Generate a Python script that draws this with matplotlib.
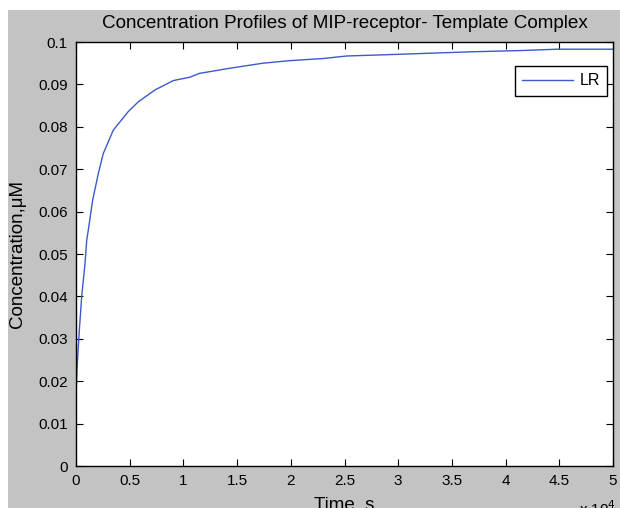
import numpy as np
import matplotlib.pyplot as plt
from matplotlib.patches import Rectangle

# values (time in s, concentration in uM)
time_s = [0, 20, 125, 310, 530, 840, 1000, 1150, 1550, 2080, 2540, 3470, 4870,
          5800, 7360, 9060, 10600, 11500, 14300, 17400, 19900, 23000, 25200,
          28900, 32300, 37000, 41600, 44800, 50000]
conc_LR = [0, 0.018, 0.0243, 0.032, 0.040, 0.0478, 0.0533, 0.0557, 0.0627,
           0.069, 0.0737, 0.0792, 0.0836, 0.0859, 0.0887, 0.0909, 0.0917,
           0.0926, 0.0938, 0.095, 0.0956, 0.0961, 0.0967, 0.097, 0.0973,
           0.0977, 0.098, 0.0983, 0.0983]

xticks = np.arange(0, 50001, 5000)
xticklabels = ['0', '0.5', '1', '1.5', '2', '2.5', '3', '3.5', '4', '4.5', '5']
yticks = np.arange(0, 0.1001, 0.01)
yticklabels = ['0', '0.01', '0.02', '0.03', '0.04', '0.05', '0.06', '0.07',
               '0.08', '0.09', '0.1']

plt.rcParams['font.family'] = ['Liberation Sans', 'DejaVu Sans']

gray = '#c3c3c3'
fig = plt.figure(figsize=(6.2, 5.08), dpi=100, facecolor='white')
# grey window area (white strip on top and left like the screenshot)
fig.patches.append(Rectangle((8 / 620, 0), 1, 1 - 10 / 508, transform=fig.transFigure,
                             facecolor=gray, edgecolor='none', zorder=-10))

ax = fig.add_axes([76 / 620, 42 / 508, 537 / 620, 424 / 508])
ax.plot(time_s, conc_LR, color='#3a5bc8', linewidth=1.0, label='LR')

ax.set_xlim(0, 50000)
ax.set_ylim(0, 0.1)
ax.set_xticks(xticks)
ax.set_xticklabels(xticklabels)
ax.set_yticks(yticks)
ax.set_yticklabels(yticklabels)
ax.tick_params(direction='in', length=5, width=0.8, top=True, right=True,
               labelsize=11, pad=6, colors='black')
for s in ax.spines.values():
    s.set_linewidth(1.0)

ax.set_title('Concentration Profiles of MIP-receptor- Template Complex',
             fontsize=13.6, pad=10)
ax.set_ylabel('Concentration,\u03bcM', fontsize=13.5)
ax.yaxis.set_label_coords(-0.093, 0.5)
ax.set_xlabel('Time, s', fontsize=13.5)
ax.xaxis.set_label_coords(0.5, -0.071)
fig.text(598 / 620, 1 - 499 / 508, 'x 10$^4$', fontsize=11, ha='center', va='top')

leg = ax.legend(loc='upper right', bbox_to_anchor=(0.989, 0.943), borderaxespad=0,
                fontsize=11.5, handlelength=3.2, handletextpad=0.4, borderpad=0.45,
                fancybox=False, framealpha=1, edgecolor='black')
leg.get_frame().set_linewidth(1.0)

fig.savefig('out.png', dpi=100, facecolor=fig.get_facecolor())
